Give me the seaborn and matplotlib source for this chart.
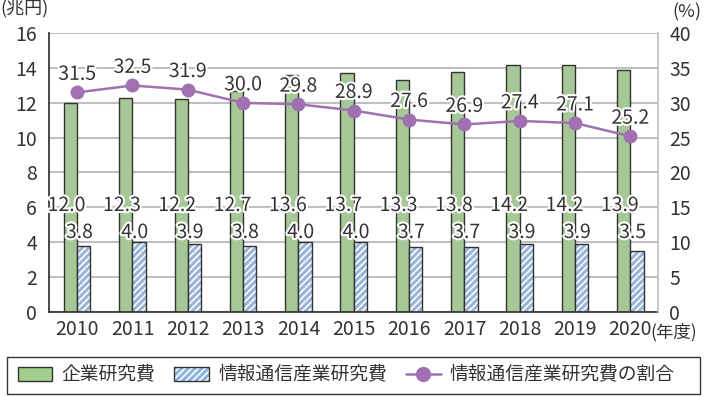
import pandas as pd
import matplotlib.pyplot as plt
import matplotlib.patheffects as pe
from matplotlib.patches import Patch, Rectangle
from matplotlib.lines import Line2D
from matplotlib.legend_handler import HandlerTuple
import seaborn as sns

years = ['2010', '2011', '2012', '2013', '2014', '2015', '2016', '2017', '2018', '2019', '2020']
corp_rd = [12.0, 12.3, 12.2, 12.7, 13.6, 13.7, 13.3, 13.8, 14.2, 14.2, 13.9]
ict_rd = [3.8, 4.0, 3.9, 3.8, 4.0, 4.0, 3.7, 3.7, 3.9, 3.9, 3.5]
ict_share = [31.5, 32.5, 31.9, 30.0, 29.8, 28.9, 27.6, 26.9, 27.4, 27.1, 25.2]

names = ['企業研究費', '情報通信産業研究費', '情報通信産業研究費の割合']

sns.set_theme(style='white')
plt.rcParams['font.family'] = ['Noto Sans CJK JP', 'DejaVu Sans']
plt.rcParams['hatch.linewidth'] = 1.2

green = '#a3cf8e'
blue = '#8db3e2'
purple = '#a070b0'
txt = '#333333'
edge = '#333333'
fs = 14

df = pd.DataFrame({
    'year': years * 2,
    'value': corp_rd + ict_rd,
    'kind': [names[0]] * len(years) + [names[1]] * len(years),
})

fig = plt.figure(figsize=(7.08, 3.96), dpi=100)
ax = fig.add_axes([0.0699, 0.213, 0.8595, 0.703])

sns.barplot(data=df, x='year', y='value', hue='kind', palette=[green, blue],
            width=0.48, edgecolor=edge, linewidth=1.0, ax=ax, legend=False)

n = len(years)
# white hatch on the blue bars, dark outline drawn on top
for p in list(ax.patches[n:2 * n]):
    p.set_hatch('/////')
    p.set_edgecolor('white')
    p.set_linewidth(0)
    ax.add_patch(Rectangle(p.get_xy(), p.get_width(), p.get_height(),
                           fill=False, edgecolor=edge, linewidth=1.0, zorder=p.get_zorder()))

ax.set_ylim(0, 16)
ax.set_yticks(range(0, 17, 2))
ax.set_xlim(-0.5, n - 0.5)
ax.yaxis.grid(True, color='#bfbfbf', linewidth=1.5)
ax.set_axisbelow(True)
ax.set_xlabel('')
ax.set_ylabel('')
for s in ['top', 'right']:
    ax.spines[s].set_visible(False)
ax.spines['left'].set_color(edge)
ax.spines['bottom'].set_color(edge)
ax.tick_params(axis='y', length=0, labelsize=fs, colors=txt, pad=9)
ax.tick_params(axis='x', length=0, labelsize=fs, colors=txt, pad=5)

outline = [pe.withStroke(linewidth=3, foreground='white')]
for i in range(n):
    ax.text(i - 0.19, 6.1, f'{corp_rd[i]:.1f}', ha='center', va='center',
            fontsize=fs, color=txt, path_effects=outline, zorder=5)
    ax.text(i + 0.04, 4.55, f'{ict_rd[i]:.1f}', ha='center', va='center',
            fontsize=fs, color=txt, path_effects=outline, zorder=5)

ax2 = ax.twinx()
sns.lineplot(x=list(range(n)), y=ict_share, ax=ax2, color=purple, linewidth=1.8,
             marker='o', markersize=10, markeredgewidth=0, legend=False)
ax2.set_ylim(0, 40)
ax2.set_yticks(range(0, 41, 5))
ax2.tick_params(axis='y', length=0, labelsize=fs, colors=txt, pad=8)
ax2.grid(False)
for s in ['top', 'left', 'bottom']:
    ax2.spines[s].set_visible(False)
ax2.spines['right'].set_color('#bfbfbf')
ax2.spines['right'].set_linewidth(1.2)
for i in range(n):
    ax2.text(i, ict_share[i] + 2.6, f'{ict_share[i]:.1f}', ha='center', va='center',
             fontsize=fs, color=txt, path_effects=outline, zorder=5)

fig.text(0.0, 0.978, '(兆円)', fontsize=13, color=txt, ha='left', va='center')
fig.text(0.99, 0.968, '(%)', fontsize=13, color=txt, ha='right', va='center')
fig.text(0.919, 0.16, '(年度)', fontsize=12.5, color=txt, ha='left', va='center')

# legend box
fig.patches.append(Rectangle((0.0099, 0.005), 0.979, 0.094, transform=fig.transFigure,
                             fill=False, edgecolor=edge, linewidth=1.0))
handles = [
    Patch(facecolor=green, edgecolor=edge),
    (Patch(facecolor=blue, edgecolor='white', hatch='/////', linewidth=0),
     Patch(fill=False, edgecolor=edge)),
    Line2D([0], [0], color=purple, linewidth=1.8, marker='o', markersize=10),
]
leg = fig.legend(handles=handles, labels=names, loc='center left',
                 bbox_to_anchor=(0.025, 0.053), ncol=3, frameon=False,
                 fontsize=13.5, handlelength=1.85, handleheight=0.75,
                 handletextpad=0.5, columnspacing=1.0, borderpad=0, borderaxespad=0,
                 handler_map={tuple: HandlerTuple(ndivide=1, pad=0)})
for t in leg.get_texts():
    t.set_color(txt)

fig.savefig('out.png', dpi=100)
